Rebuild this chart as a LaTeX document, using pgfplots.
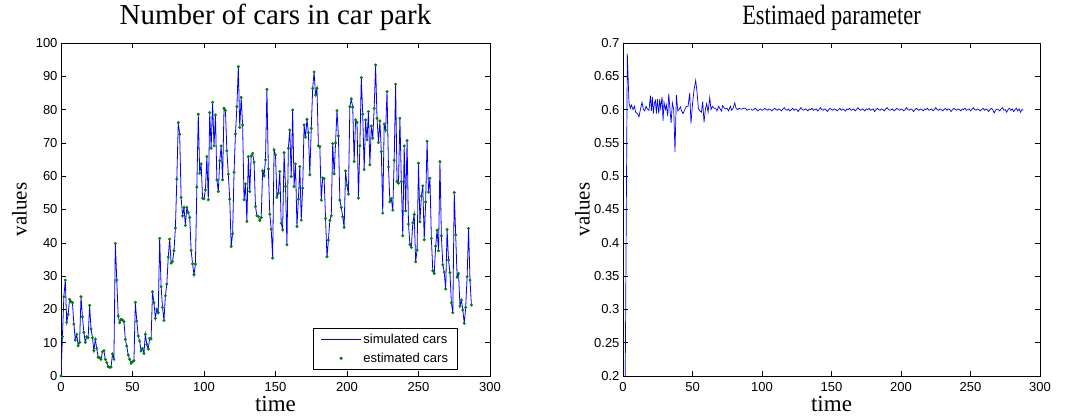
\documentclass[border=0pt]{standalone}
\usepackage{fontspec}
\setmainfont{Liberation Serif}
\newfontfamily\arial{Liberation Sans}
\usepackage{pgfplots}
\pgfplotsset{compat=1.18}
\usepackage{pgfplotstable}

\definecolor{mblue}{rgb}{0,0,1}
\definecolor{mgreen}{rgb}{0,0.5,0}

\pgfplotstableread{
v
0
11.8
23.8
28.8
16.1
18.5
23.0
22.3
22.0
15.6
10.8
12.5
9.1
10.1
23.8
17.8
13.1
10.1
11.8
11.5
21.2
14.1
11.5
7.6
11.0
8.3
5.6
5.5
5.0
7.3
7.6
5.0
4.0
2.8
2.6
2.7
6.6
5.1
39.8
28.8
18.0
16.0
17.0
16.8
16.3
11.0
9.0
6.3
5.0
3.8
4.3
4.6
22.1
16.5
12.0
10.5
7.5
8.3
6.8
12.5
9.5
8.1
11.3
11.1
25.3
22.0
17.3
20.1
19.0
41.3
26.8
20.6
16.7
24.1
27.6
35.7
41.1
33.9
34.4
37.6
44.4
59.1
76.1
72.6
53.6
48.1
50.6
45.2
50.6
49.1
47.6
37.7
33.7
30.4
33.6
56.7
78.6
60.9
63.7
53.4
53.2
55.9
65.9
52.9
79.1
68.4
82.2
69.1
78.4
58.9
55.4
64.6
69.1
58.9
80.4
79.7
67.6
60.6
53.1
38.9
42.7
61.2
72.7
80.9
92.9
74.6
83.7
75.4
52.9
57.7
46.4
65.9
55.4
66.1
66.9
64.2
50.9
48.1
47.9
46.7
47.6
61.6
60.1
64.9
86.1
62.2
48.6
44.1
35.4
67.9
66.4
53.7
54.9
61.4
45.9
43.9
67.1
56.9
39.4
68.4
73.9
59.9
79.9
56.9
63.7
44.9
53.1
62.9
46.8
56.4
75.4
71.7
77.1
73.1
60.4
74.4
86.4
91.3
84.4
86.4
69.1
68.9
52.8
59.5
59.3
47.3
35.8
40.8
46.7
48.1
69.8
60.7
70.0
79.7
72.1
52.8
50.6
47.8
44.6
61.6
57.3
54.6
80.9
83.2
80.7
64.4
76.9
76.1
53.4
69.1
89.6
78.6
62.0
76.9
70.9
79.4
63.4
75.1
71.4
80.4
93.4
77.4
70.1
76.6
67.4
48.9
75.6
73.8
85.4
62.8
52.3
53.3
49.8
64.8
87.6
58.4
57.9
77.4
58.4
42.1
69.1
49.6
70.7
45.6
39.5
38.6
46.0
48.5
34.3
37.8
63.9
46.3
54.0
57.1
40.9
52.3
70.5
55.2
59.4
41.3
31.6
30.8
39.0
43.8
37.6
64.4
42.1
33.4
31.2
26.1
44.0
34.8
31.0
22.0
19.0
55.1
42.4
29.7
30.8
21.0
22.8
19.8
15.8
20.6
29.8
44.3
28.8
21.3
}\cars

\pgfplotstableread{
t p
1 0.0
3.1 0.684
4.3 0.610
5.3 0.602
6.0 0.607
7.2 0.600
8.2 0.605
9.1 0.596
10.3 0.594
11.5 0.589
12.5 0.600
13.7 0.611
14.7 0.600
15.6 0.598
16.6 0.605
17.5 0.601
18.7 0.599
19.7 0.621
20.4 0.598
21.1 0.619
21.8 0.594
22.6 0.610
23.3 0.614
24.0 0.594
24.7 0.616
25.7 0.594
26.4 0.616
27.1 0.602
28.1 0.619
28.8 0.583
29.5 0.611
30.5 0.600
31.2 0.607
32.2 0.590
32.9 0.624
33.8 0.600
34.6 0.580
35.5 0.610
36.5 0.600
37.4 0.536
38.4 0.622
39.4 0.598
40.3 0.600
41.3 0.604
42.2 0.598
43.2 0.594
44.4 0.600
45.6 0.605
46.8 0.605
48.0 0.625
48.9 0.579
49.9 0.606
51.1 0.630
52.3 0.644
53.3 0.625
54.2 0.602
55.2 0.598
56.4 0.596
57.3 0.612
58.3 0.581
59.3 0.601
60.2 0.609
61.2 0.596
62.4 0.618
63.3 0.600
64.3 0.605
65.5 0.602
66.7 0.602
67.6 0.598
68.8 0.605
69.8 0.601
70.8 0.598
71.7 0.606
72.9 0.602
73.9 0.601
74.8 0.602
76.0 0.598
77.2 0.605
78.2 0.599
79.2 0.602
80.4 0.610
81.3 0.602
82.3 0.600
83.5 0.602
84.4 0.601
85.6 0.601
86.8 0.602
88.0 0.602
89.2 0.599
90.4 0.600
91.2 0.601
}\paramA

\pgfplotstableread{
p
0.601
0.599
0.600
0.602
0.600
0.598
0.600
0.601
0.599
0.600
0.602
0.600
0.599
0.601
0.600
0.598
0.600
0.602
0.600
0.599
0.601
0.600
0.598
0.601
0.603
0.600
0.599
0.601
0.598
0.600
0.602
0.599
0.601
0.600
0.597
0.600
0.603
0.600
0.599
0.601
0.600
0.598
0.601
0.600
0.602
0.599
0.600
0.601
0.598
0.600
0.603
0.600
0.599
0.601
0.600
0.597
0.600
0.602
0.600
0.599
0.601
0.600
0.598
0.600
0.602
0.599
0.601
0.600
0.598
0.601
0.600
0.602
0.599
0.600
0.601
0.598
0.600
0.603
0.600
0.599
0.601
0.600
0.598
0.601
0.600
0.602
0.599
0.600
0.601
0.597
0.600
0.602
0.600
0.599
0.601
0.600
0.598
0.601
0.603
0.600
0.599
0.600
0.601
0.598
0.600
0.602
0.600
0.599
0.601
0.600
0.598
0.600
0.603
0.600
0.599
0.601
0.600
0.597
0.600
0.602
0.600
0.599
0.601
0.600
0.598
0.601
0.600
0.602
0.599
0.600
0.601
0.598
0.600
0.603
0.600
0.599
0.601
0.600
0.598
0.600
0.602
0.599
0.601
0.600
0.597
0.600
0.602
0.600
0.599
0.601
0.600
0.598
0.601
0.600
0.602
0.599
0.600
0.601
0.598
0.600
0.603
0.600
0.599
0.601
0.600
0.598
0.600
0.602
0.599
0.601
0.600
0.597
0.600
0.602
0.600
0.595
0.599
0.601
0.600
0.598
0.601
0.603
0.599
0.600
0.596
0.600
0.602
0.599
0.601
0.597
0.600
0.602
0.598
0.601
0.596
0.600
0.599
}\paramB

\pgfplotsset{
  every axis/.append style={
    scale only axis,
    anchor=south west,
    tick align=inside,
    major tick length=5pt,
    tick style={black, line width=0.5pt},
    axis line style={line width=0.6pt},
    /pgf/number format/assume math mode=true,
    tick label style={font=\arial\fontsize{13}{13}\selectfont},
    xticklabel style={yshift=-3pt},
    title style={font=\fontsize{29}{29}\selectfont, at={(axis description cs:0.5,1.039)}, anchor=base, inner sep=0pt},
    xlabel style={font=\fontsize{23}{23}\selectfont, at={(axis description cs:0.5,-0.108)}, anchor=base, inner sep=0pt},
    ylabel style={font=\fontsize{21}{21}\selectfont, at={(axis description cs:-0.08,0.5)}, anchor=base, inner sep=0pt},
    xmin=0, xmax=300,
    xtick={0,50,100,150,200,250,300},
    xticklabels={0,50,100,150,200,250,300},
    xlabel={time}, ylabel={values},
  }
}

\begin{document}
\begin{tikzpicture}
\path[use as bounding box] (0pt,0pt) rectangle (1067pt,419pt);
\begin{axis}[
  at={(61pt,43pt)}, width=429pt, height=333pt,
  ymin=0, ymax=100,
  ytick={0,10,20,30,40,50,60,70,80,90,100},
  yticklabels={0,10,20,30,40,50,60,70,80,90,100},
  title={Number of cars in car park},
  legend cell align=left,
  legend style={at={(rel axis cs:0.925,0.018)}, anchor=south east,
    font=\arial\fontsize{13}{13}\selectfont, draw=black, line width=0.6pt,
    inner xsep=7.5pt, inner ysep=4pt, row sep=4pt},
]
\addplot[mblue, line width=0.8pt, mark=none,
  legend image code/.code={\draw[mblue, line width=0.8pt] (0pt,0pt) -- (40pt,0pt);}]
  table[x expr=\coordindex, y=v] {\cars};
\addlegendentry{simulated cars}
\addplot[only marks, mark=*, mark size=1.3pt, mgreen,
  legend image code/.code={\draw[mgreen, only marks, mark=*, mark size=1.3pt] plot coordinates {(20pt,0pt)};}]
  table[x expr=\coordindex, y=v] {\cars};
\addlegendentry{estimated cars}
\end{axis}

\begin{axis}[
  at={(623pt,43pt)}, width=417pt, height=333pt,
  ymin=0.2, ymax=0.7,
  ytick={0.2,0.25,0.3,0.35,0.4,0.45,0.5,0.55,0.6,0.65,0.7},
  yticklabels={0.2,0.25,0.3,0.35,0.4,0.45,0.5,0.55,0.6,0.65,0.7},
  title={Estimaed parameter},
  title style={font=\fontsize{28}{28}\selectfont, xscale=0.8},
]
\addplot[mblue, line width=0.7pt, mark=none] table[x=t, y=p] {\paramA};
\addplot[mblue, line width=0.7pt, mark=none] table[x expr=\coordindex+92, y=p] {\paramB};
\end{axis}
\end{tikzpicture}
\end{document}
